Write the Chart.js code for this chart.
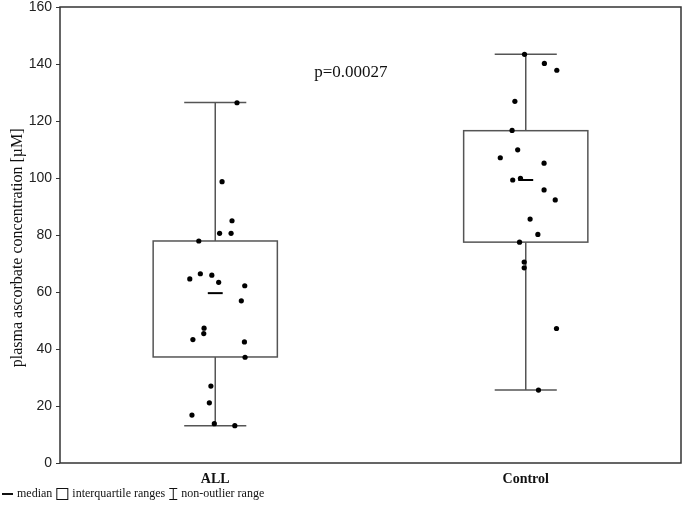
<!DOCTYPE html>
<html>
<head>
<meta charset="utf-8">
<script src="https://cdn.jsdelivr.net/npm/chart.js@4.4.1/dist/chart.umd.min.js"></script>
<style>
  html, body { margin: 0; padding: 0; background: #fff; }
  #wrap { width: 685px; height: 505px; }
</style>
</head>
<body>
<div id="wrap"><canvas id="chart" width="685" height="505"></canvas></div>
<script>
// categories and box statistics
const categories = ["ALL", "Control"];
const q1 = [37.2, 77.5];
const q3 = [77.9, 116.6];
const medians = [59.6, 99.3];
const whiskerLow = [13.1, 25.6];
const whiskerHigh = [126.5, 143.4];
const yTicks = [0, 20, 40, 60, 80, 100, 120, 140, 160];
const yTitle = "plasma ascorbate concentration [µM]";
const pValue = "p=0.00027";

// individual values (jitter = horizontal offset from the category centre)
const allValues = [126.4, 98.7, 85.0, 80.6, 80.6, 77.9, 64.6, 66.4, 65.9, 63.4, 62.2,
  56.9, 47.3, 45.4, 43.3, 42.5, 37.1, 27.0, 21.1, 16.8, 13.8, 13.1];
const allJitter = [0.070, 0.022, 0.054, 0.014, 0.051, -0.053, -0.082, -0.048, -0.011, 0.011, 0.095,
  0.084, -0.036, -0.037, -0.072, 0.094, 0.096, -0.014, -0.019, -0.075, -0.003, 0.063];
const controlValues = [143.4, 140.2, 137.8, 126.9, 116.7, 109.9, 107.1, 105.2, 99.3, 99.9,
  95.8, 92.3, 85.6, 80.2, 77.5, 70.5, 68.5, 47.2, 25.6];
const controlJitter = [-0.004, 0.060, 0.100, -0.035, -0.044, -0.026, -0.082, 0.059, -0.042, -0.017,
  0.059, 0.095, 0.014, 0.039, -0.020, -0.005, -0.005, 0.099, 0.041];

const toPoints = (vals, jit, pos) => vals.map((v, i) => ({ x: pos + jit[i], y: v }));

const boxPlugin = {
  id: "boxes",
  beforeDatasetsDraw(chart) {
    const { ctx, scales: { x, y } } = chart;
    ctx.save();
    categories.forEach((c, i) => {
      const cx = x.getPixelForValue(i + 1);
      const hw = x.getPixelForValue(i + 1.2) - cx;
      const cap = x.getPixelForValue(i + 1.1) - cx;
      const med = x.getPixelForValue(i + 1.024) - cx;
      const yTop = y.getPixelForValue(whiskerHigh[i]);
      const yLow = y.getPixelForValue(whiskerLow[i]);
      const yQ1 = y.getPixelForValue(q1[i]);
      const yQ3 = y.getPixelForValue(q3[i]);
      const yMed = y.getPixelForValue(medians[i]);
      ctx.strokeStyle = "#555";
      ctx.lineWidth = 1.5;
      ctx.beginPath();
      ctx.moveTo(cx, yTop); ctx.lineTo(cx, yQ3);
      ctx.moveTo(cx, yQ1); ctx.lineTo(cx, yLow);
      ctx.moveTo(cx - cap, yTop); ctx.lineTo(cx + cap, yTop);
      ctx.moveTo(cx - cap, yLow); ctx.lineTo(cx + cap, yLow);
      ctx.stroke();
      ctx.strokeRect(cx - hw, yQ3, hw * 2, yQ1 - yQ3);
      ctx.strokeStyle = "#000";
      ctx.lineWidth = 2;
      ctx.beginPath();
      ctx.moveTo(cx - med, yMed); ctx.lineTo(cx + med, yMed);
      ctx.stroke();
    });
    ctx.restore();
  },
  afterDraw(chart) {
    const { ctx, chartArea: a, scales: { x, y } } = chart;
    ctx.save();
    // frame
    ctx.strokeStyle = "#333";
    ctx.lineWidth = 1.5;
    ctx.strokeRect(a.left, a.top, a.right - a.left, a.bottom - a.top);
    // y axis title
    ctx.fillStyle = "#111";
    ctx.font = "16px 'Liberation Serif'";
    ctx.textAlign = "center";
    ctx.textBaseline = "middle";
    ctx.save();
    ctx.translate(18, y.getPixelForValue(75.5));
    ctx.rotate(-Math.PI / 2);
    ctx.fillText(yTitle, 0, 0);
    ctx.restore();
    // p value
    ctx.font = "17px 'Liberation Serif'";
    ctx.fillText(pValue, x.getPixelForValue(1.437), y.getPixelForValue(137.1));
    // legend
    ctx.font = "12px 'Liberation Serif'";
    ctx.textAlign = "left";
    ctx.strokeStyle = "#111";
    const ly = 494;
    let lx = 2;
    ctx.lineWidth = 2;
    ctx.beginPath(); ctx.moveTo(lx, ly); ctx.lineTo(lx + 11, ly); ctx.stroke();
    lx += 15;
    ctx.fillText("median", lx, ly);
    lx += ctx.measureText("median").width + 4;
    ctx.lineWidth = 1;
    ctx.strokeRect(lx + 0.5, ly - 5.5, 11, 11);
    lx += 16;
    ctx.fillText("interquartile ranges", lx, ly);
    lx += ctx.measureText("interquartile ranges").width + 4;
    ctx.beginPath();
    ctx.moveTo(lx, ly - 5.5); ctx.lineTo(lx + 8, ly - 5.5);
    ctx.moveTo(lx + 4, ly - 5.5); ctx.lineTo(lx + 4, ly + 5.5);
    ctx.moveTo(lx, ly + 5.5); ctx.lineTo(lx + 8, ly + 5.5);
    ctx.stroke();
    lx += 12;
    ctx.fillText("non-outlier range", lx, ly);
    ctx.restore();
  }
};

new Chart(document.getElementById("chart"), {
  type: "scatter",
  data: {
    datasets: [
      { data: toPoints(allValues, allJitter, 1) },
      { data: toPoints(controlValues, controlJitter, 2) }
    ]
  },
  options: {
    responsive: false,
    animation: false,
    layout: { padding: { top: 7, right: 1, bottom: 18, left: 0 } },
    elements: { point: { radius: 2.6, backgroundColor: "#000", borderWidth: 0 } },
    plugins: { legend: { display: false }, tooltip: { enabled: false } },
    scales: {
      x: {
        type: "linear",
        min: 0.5,
        max: 2.5,
        afterBuildTicks: s => { s.ticks = categories.map((c, i) => ({ value: i + 1 })); },
        afterFit: s => { s.height = 24; s.paddingLeft = 0; s.paddingRight = 0; },
        grid: { display: false, drawTicks: false, tickLength: 0 },
        border: { display: false },
        ticks: {
          callback: v => categories[v - 1],
          color: "#111",
          padding: 8,
          font: { family: "'Liberation Serif'", size: 14, weight: "bold" }
        }
      },
      y: {
        min: 0,
        max: 160,
        afterBuildTicks: s => { s.ticks = yTicks.map(v => ({ value: v })); },
        afterFit: s => { s.width = 60; s.paddingTop = 0; s.paddingBottom = 0; },
        border: { display: false },
        grid: { drawOnChartArea: false, drawTicks: true, tickLength: 4, color: "#333" },
        ticks: {
          color: "#222",
          padding: 4,
          font: { family: "'Liberation Sans'", size: 14 }
        }
      }
    }
  },
  plugins: [boxPlugin]
});
</script>
</body>
</html>
